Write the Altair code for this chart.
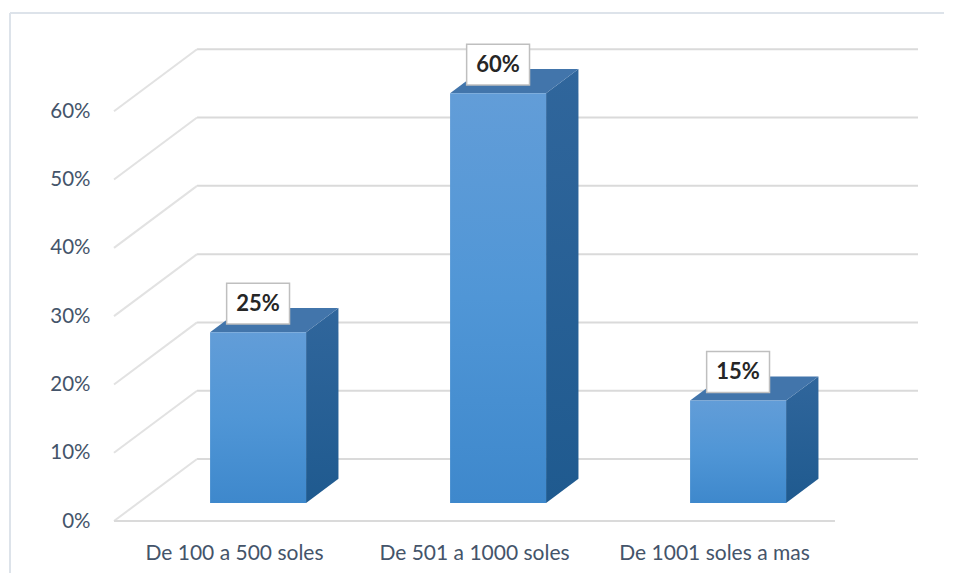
import altair as alt
import pandas as pd

# ---- data ----
categories = ["De 100 a 500 soles", "De 501 a 1000 soles", "De 1001 soles a mas"]
values = [25, 60, 15]
tick_values = [0, 10, 20, 30, 40, 50, 60]

# ---- 3-D styling parameters (in scale units) ----
DX, DY = 0.346, 9.08      # full floor depth (x units, % units)
F1, F2 = 0.29, 0.68       # bar front / back depth fraction
HW = 0.2                  # half bar width
X_MIN, X_MAX = -0.5, 2.85
Y_MIN, Y_MAX = 0, 70

xs = alt.Scale(domain=[X_MIN, X_MAX], nice=False, zero=False)
ys = alt.Scale(domain=[Y_MIN, Y_MAX], nice=False, zero=False)

front = pd.DataFrame({
    "cat": categories,
    "i": range(len(categories)),
    "v": values,
})
front["x1"] = front["i"] - HW + F1 * DX
front["x2"] = front["i"] + HW + F1 * DX
front["y1"] = F1 * DY
front["y2"] = front["v"] + F1 * DY
front["cx"] = front["i"] + F1 * DX
front["by1"] = front["v"] + F1 * DY + 1.2
front["by2"] = front["v"] + F1 * DY + 7.2
front["by"] = (front["by1"] + front["by2"]) / 2
front["bx1"] = front["cx"] - 0.131
front["bx2"] = front["cx"] + 0.131
front["label"] = [f"{v}%" for v in values]

side_rows, top_rows = [], []
for i, (c, v) in enumerate(zip(categories, values)):
    for f in (F1, F2):
        side_rows.append({"cat": c, "x": i + HW + f * DX, "ylo": f * DY, "yhi": v + f * DY})
        top_rows.append({"cat": c, "y": v + f * DY, "xlo": i - HW + f * DX, "xhi": i + HW + f * DX})
side = pd.DataFrame(side_rows)
top = pd.DataFrame(top_rows)

grid = pd.DataFrame({"v": tick_values})
grid["bx1"] = X_MIN + DX
grid["bx2"] = X_MAX
grid["by"] = grid["v"] + DY
grid["dx1"] = X_MIN
grid["dx2"] = X_MIN + DX
floor = pd.DataFrame({"x1": [X_MIN], "x2": [X_MAX - DX], "y": [0]})

GRID = "#dadada"
label_color = "#44546A"
font = "Lato"

front_grad = alt.LinearGradient(
    gradient="linear", x1=0, y1=0, x2=0, y2=1,
    stops=[alt.GradientStop(color="#629dd8", offset=0),
           alt.GradientStop(color="#5096d6", offset=0.5),
           alt.GradientStop(color="#3e88cc", offset=1)])
side_grad = alt.LinearGradient(
    gradient="linear", x1=0, y1=0, x2=0, y2=1,
    stops=[alt.GradientStop(color="#30669c", offset=0),
           alt.GradientStop(color="#1f5a8f", offset=1)])

label_expr = "datum.value == 0 ? '%s' : datum.value == 1 ? '%s' : '%s'" % tuple(categories)
x_axis = alt.Axis(
    values=list(range(len(categories))), labelExpr=label_expr, title=None,
    domain=False, ticks=False, grid=False, labelFont=font, labelFontSize=21,
    labelColor=label_color, labelPadding=32, labelBaseline="middle",
    labelLimit=400, labelOverlap=False)
y_axis = alt.Axis(
    values=tick_values, labelExpr="datum.value + '%'", title=None,
    domain=False, ticks=False, grid=False, labelFont=font, labelFontSize=20.5,
    labelColor=label_color, labelPadding=24)


def X(field):
    return alt.X(field, type="quantitative", scale=xs, axis=x_axis)


def Y(field):
    return alt.Y(field, type="quantitative", scale=ys, axis=y_axis)


back_lines = alt.Chart(grid).mark_rule(color=GRID, strokeWidth=2).encode(
    x=X("bx1"), x2="bx2", y=Y("by"))
diag_lines = alt.Chart(grid).mark_rule(color="#e2e2e2", strokeWidth=2).encode(
    x=X("dx1"), x2="dx2", y=Y("v"), y2="by")
floor_line = alt.Chart(floor).mark_rule(color=GRID, strokeWidth=2).encode(
    x=X("x1"), x2="x2", y=Y("y"))

frame_top = alt.Chart(floor).mark_rule(color="#dde3ea", strokeWidth=2).encode(
    x=alt.value(-104), x2=alt.value(830), y=alt.value(-30))
frame_left = alt.Chart(floor).mark_rule(color="#dde3ea", strokeWidth=2).encode(
    x=alt.value(-104), y=alt.value(-30), y2=alt.value(560))

side_faces = alt.Chart(side).mark_area(color=side_grad, interpolate="linear").encode(
    x=X("x"), y=Y("yhi"), y2="ylo", detail="cat:N")
top_faces = alt.Chart(top).mark_area(color="#4275ab", orient="horizontal", interpolate="linear").encode(
    y=Y("y"), x=X("xlo"), x2="xhi", detail="cat:N")

front_faces = alt.Chart(front).mark_rect(color=front_grad).encode(
    x=X("x1"), x2="x2", y=Y("y1"), y2="y2")

boxes = alt.Chart(front).mark_rect(fill="white", stroke="#bfbfbf", strokeWidth=1.5).encode(
    x=X("bx1"), x2="bx2", y=Y("by1"), y2="by2")
texts = alt.Chart(front).mark_text(font=font, fontSize=22, fontWeight="bold",
                                   color="#262626", baseline="middle", align="center").encode(
    x=X("cx"), y=Y("by"), text="label:N")

chart = alt.layer(
    back_lines, diag_lines, floor_line, frame_top, frame_left,
    side_faces, top_faces, front_faces, boxes, texts
).properties(
    width=804, height=478,
    autosize=alt.AutoSizeParams(type="none"),
    padding={"left": 106, "top": 35, "right": 26, "bottom": 52},
    background="white",
).configure_view(strokeWidth=0)

chart.save("out.html", embed_options={"renderer": "svg", "actions": False})
